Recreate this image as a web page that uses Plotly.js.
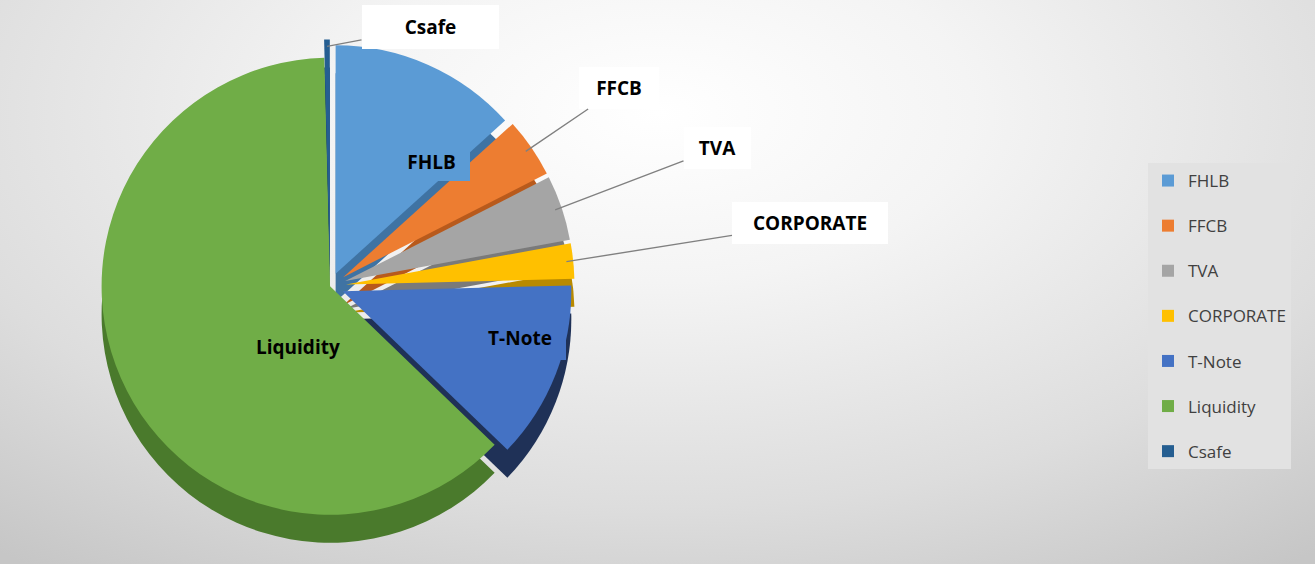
<!DOCTYPE html>
<html><head><meta charset="utf-8">
<script src="https://cdn.plot.ly/plotly-3.0.1.min.js"></script>
<style>
html,body{margin:0;padding:0;}
body{width:1315px;height:564px;overflow:hidden;background:radial-gradient(ellipse 80% 100% at 50% 20%, #ffffff 0%, #f4f4f4 30%, #dddddd 70%, #c6c6c6 100%);}
#chart{width:1315px;height:564px;}
</style></head><body><div id="chart"></div>
<script>
// ---- data ----
const labels = ['FHLB', 'FFCB', 'TVA', 'CORPORATE', 'T-Note', 'Liquidity', 'Csafe'];
const values = [13.3, 4.2, 4.6, 2.5, 12.6, 62.4, 0.4];

// ---- styles ----
const colors = ['#5B9BD5', '#ED7D31', '#A5A5A5', '#FFC000', '#4472C4', '#70AD47', '#255E91'];
const sideColors = ['#3F73A3', '#B85A1C', '#7A7A7A', '#B98A00', '#1F3157', '#4A7A2C', '#173D60'];
const pulls = [0.06, 0.07, 0.07, 0.07, 0.06, 0.0, 0.08];

const W = 1315, H = 564;
const dom = {x: [0.063, 0.439], y: [0.055, 0.93]};
const depthPx = 28;

// label boxes: pixel centres, sizes; outside => leader line to slice
const labelBoxes = {
  'FHLB':      {cx: 393, cy: 143, w: 75,  h: 36, out: false},
  'FFCB':      {cx: 619, cy: 88,  w: 78,  h: 40, out: true},
  'TVA':       {cx: 717, cy: 148, w: 65,  h: 40, out: true},
  'CORPORATE': {cx: 810, cy: 223, w: 154, h: 40, out: true},
  'T-Note':    {cx: 520, cy: 338, w: 90,  h: 42, out: false},
  'Liquidity': {cx: 240, cy: 346, w: 114, h: 41, out: false},
  'Csafe':     {cx: 430, cy: 27,  w: 135, h: 42, out: true}
};

// pie geometry (as plotly lays it out)
const pcx = (dom.x[0] + dom.x[1]) / 2 * W;
const pcy = (1 - (dom.y[0] + dom.y[1]) / 2) * H;
const maxPull = Math.max(...pulls);
const pr = Math.min((dom.x[1] - dom.x[0]) * W, (dom.y[1] - dom.y[0]) * H) / 2 / (1 + maxPull);

const total = values.reduce((a, b) => a + b, 0);
const annotations = [];
let cum = 0;
labels.forEach((lab, i) => {
  const mid = (cum + values[i] / 2) / total;
  cum += values[i];
  const th = 2 * Math.PI * mid;
  const b = labelBoxes[lab];
  const base = {
    text: lab, xref: 'paper', yref: 'paper',
    font: {family: '"Open Sans", Lato, sans-serif', size: 19, color: '#000000', weight: 'bold'},
    bgcolor: b.out ? '#ffffff' : colors[i],
    width: b.w, height: b.h, align: 'center', valign: 'middle',
    borderwidth: 0
  };
  if (b.out) {
    const rr = pr * (pulls[i] + 0.97);
    const tx = pcx + rr * Math.sin(th);
    const ty = pcy - rr * Math.cos(th);
    annotations.push(Object.assign(base, {
      x: tx / W, y: 1 - ty / H,
      showarrow: true, arrowhead: 0, arrowwidth: 1.4, arrowcolor: '#808080',
      ax: b.cx - tx, ay: b.cy - ty, standoff: 0
    }));
  } else {
    annotations.push(Object.assign(base, {
      x: b.cx / W, y: 1 - b.cy / H, showarrow: false
    }));
  }
});

const depthTrace = {
  type: 'pie', labels: labels, values: values, sort: false,
  direction: 'clockwise', rotation: 0, pull: pulls,
  marker: {colors: sideColors, line: {width: 0}},
  textinfo: 'none', hoverinfo: 'skip', showlegend: false,
  domain: {x: dom.x, y: [dom.y[0] - depthPx / H, dom.y[1] - depthPx / H]}
};
const pieTrace = {
  type: 'pie', labels: labels, values: values, sort: false,
  direction: 'clockwise', rotation: 0, pull: pulls,
  marker: {colors: colors, line: {width: 0}},
  textinfo: 'none', hoverinfo: 'label+percent', showlegend: false,
  domain: dom
};
const legendTraces = labels.map((lab, i) => ({
  type: 'scatter', mode: 'markers', x: [null], y: [null], name: lab,
  legendgroup: lab, marker: {symbol: 'square', size: 12, color: colors[i]},
  hoverinfo: 'skip'
}));

const layout = {
  width: W, height: H,
  margin: {l: 0, r: 0, t: 0, b: 0},
  paper_bgcolor: 'rgba(0,0,0,0)', plot_bgcolor: 'rgba(0,0,0,0)',
  xaxis: {visible: false}, yaxis: {visible: false},
  showlegend: true,
  legend: {
    x: 1148 / W, y: 1 - 163 / H, xanchor: 'left', yanchor: 'top',
    bgcolor: '#e2e2e2', borderwidth: 0,
    font: {family: '"Open Sans", Lato, sans-serif', size: 17, color: '#404040'},
    traceorder: 'grouped', tracegroupgap: 20, itemwidth: 30
  },
  annotations: annotations
};

Plotly.newPlot('chart', [depthTrace, pieTrace].concat(legendTraces), layout, {displayModeBar: false, staticPlot: true});
</script></body></html>
